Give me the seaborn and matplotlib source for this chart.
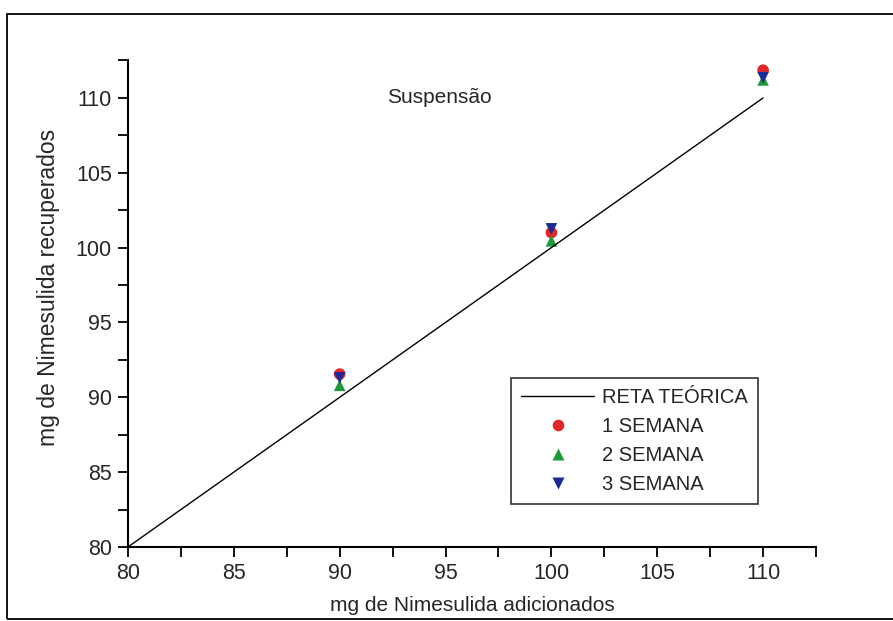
import pandas as pd
import numpy as np
import matplotlib
matplotlib.use("Agg")
import matplotlib.pyplot as plt
from matplotlib.patches import Rectangle
from matplotlib.ticker import MultipleLocator
import seaborn as sns

# data
added = [90, 100, 110]
week1 = [91.55, 101.0, 111.85]
week2 = [90.8, 100.45, 111.2]
week3 = [91.3, 101.25, 111.35]
theory_x = [80, 110]
theory_y = [80, 110]
week_labels = ["1 SEMANA", "2 SEMANA", "3 SEMANA"]

sns.set_theme(style="ticks")
plt.rcParams['font.family'] = ['Liberation Sans', 'DejaVu Sans']

df = pd.DataFrame({
    "x": added * 3,
    "y": week1 + week2 + week3,
    "semana": [w for w in week_labels for _ in added],
})
line_df = pd.DataFrame({"x": theory_x, "y": theory_y, "s": ["RETA TEÓRICA"] * 2})

fig = plt.figure(figsize=(8.93, 6.21), dpi=100)
ax = fig.add_axes([0.1433, 0.1192, 0.9138 - 0.1433, 0.9026 - 0.1192])

sns.lineplot(data=line_df, x="x", y="y", hue="s", palette=["black"],
             linewidth=1.0, ax=ax)
sns.scatterplot(data=df, x="x", y="y", hue="semana", style="semana",
                palette=["#e3262a", "#1e9a3c", "#1c2a94"],
                markers=["o", "^", "v"], s=70, edgecolor="none", ax=ax)

ax.set_xlim(80, 112.5)
ax.set_ylim(80, 112.5)
ax.xaxis.set_major_locator(MultipleLocator(5))
ax.xaxis.set_minor_locator(MultipleLocator(2.5))
ax.yaxis.set_major_locator(MultipleLocator(5))
ax.yaxis.set_minor_locator(MultipleLocator(2.5))
ax.tick_params(which="both", direction="out", length=7.5, width=1.3, color="black",
               labelsize=15.5, pad=4)
for s in ["top", "right"]:
    ax.spines[s].set_visible(False)
for s in ["left", "bottom"]:
    ax.spines[s].set_linewidth(1.5)
    ax.spines[s].set_color("black")

ax.set_xlabel("mg de Nimesulida adicionados", fontsize=15)
ax.set_ylabel("mg de Nimesulida recuperados", fontsize=16.5)
ax.xaxis.set_label_coords(0.5, -0.10)
ax.yaxis.set_label_coords(-0.099, 0.534)
ax.text(94.7, 110.0, "Suspensão", fontsize=15, ha="center", va="center")

handles, labels = ax.get_legend_handles_labels()
leg = ax.legend(handles, labels, loc="lower left", bbox_to_anchor=(0.557, 0.088),
                fontsize=14.5, frameon=True, fancybox=False, edgecolor="black",
                handlelength=3.6, handletextpad=0.4, borderpad=0.5,
                labelspacing=0.5, markerscale=1.0, borderaxespad=0)
leg.get_frame().set_linewidth(1.2)

fig.patches.append(Rectangle((0.008, 0.003), 1.0, 0.974, transform=fig.transFigure,
                             fill=False, edgecolor="black", linewidth=1.3))

fig.savefig("out.png", dpi=100)
